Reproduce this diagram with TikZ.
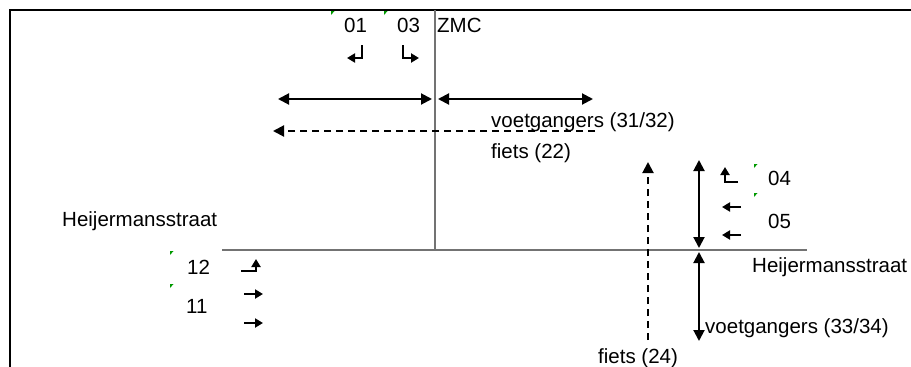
\documentclass[tikz,border=0pt]{standalone}
\usepackage{fontspec}
\setmainfont{Liberation Sans}
\usetikzlibrary{arrows.meta}
\begin{document}
\begin{tikzpicture}[x=1pt,y=-1pt,
  lbl/.style={inner sep=0pt,anchor=base west,font=\fontsize{20.5}{24}\selectfont},
  frame/.style={line width=2.4pt},
  road/.style={line width=1.3pt,draw=black!55},
  arr/.style={line width=2pt,-{Triangle[length=11pt,width=11pt]}},
  darr/.style={line width=2pt,{Triangle[length=11pt,width=11pt]}-{Triangle[length=11pt,width=11pt]}},
  dasharr/.style={arr,dash pattern=on 7pt off 5pt},
  smallarr/.style={line width=2.2pt,-{Triangle[length=8pt,width=9pt]}},
  tick/.style={fill=green!60!black}]
\useasboundingbox (0,0) rectangle (911,367);
% frame
\coordinate (fTR) at (911,10);
\coordinate (fTL) at (10,10);
\coordinate (fBL) at (10,367);
\draw[frame] (fTR) -- (fTL) -- (fBL);
% ZMC line and road
\coordinate (zTop) at (435,10);
\coordinate (zBot) at (435,250);
\draw[road] (zTop) -- (zBot);
\coordinate (rL) at (222,250);
\coordinate (rR) at (807,250);
\draw[road] (rL) -- (rR);
% top crossing arrows
\coordinate (a1) at (278,99);
\coordinate (a2) at (432,99);
\coordinate (a3) at (438,99);
\coordinate (a4) at (593,99);
\draw[darr] (a1) -- (a2);
\draw[darr] (a3) -- (a4);
\coordinate (d1) at (595,131);
\coordinate (d2) at (273,131);
\draw[dasharr] (d1) -- (d2);
% right crossing arrows
\coordinate (v1) at (648,340);
\coordinate (v2) at (648,162);
\draw[dasharr] (v1) -- (v2);
\coordinate (p1) at (699,160);
\coordinate (p2) at (699,248);
\coordinate (p3) at (699,252);
\coordinate (p4) at (699,341);
\draw[darr] (p1) -- (p2);
\draw[darr] (p3) -- (p4);
% turn arrows
\coordinate (s01a) at (362,45);
\coordinate (s01b) at (362,58);
\coordinate (s01c) at (347,58);
\draw[smallarr] (s01a) -- (s01b) -- (s01c);
\coordinate (s03a) at (403,45);
\coordinate (s03b) at (403,58);
\coordinate (s03c) at (419,58);
\draw[smallarr] (s03a) -- (s03b) -- (s03c);
\coordinate (s04a) at (738,182);
\coordinate (s04b) at (725,182);
\coordinate (s04c) at (725,167);
\draw[smallarr] (s04a) -- (s04b) -- (s04c);
\coordinate (s05a) at (741,207);
\coordinate (s05b) at (722,207);
\draw[smallarr] (s05a) -- (s05b);
\coordinate (s06a) at (741,235);
\coordinate (s06b) at (722,235);
\draw[smallarr] (s06a) -- (s06b);
\coordinate (s12a) at (241,271);
\coordinate (s12b) at (256,271);
\coordinate (s12c) at (256,259);
\draw[smallarr] (s12a) -- (s12b) -- (s12c);
\coordinate (s11a) at (244,294);
\coordinate (s11b) at (263,294);
\draw[smallarr] (s11a) -- (s11b);
\coordinate (s13a) at (244,323);
\coordinate (s13b) at (263,323);
\draw[smallarr] (s13a) -- (s13b);
% green marks
\foreach \x/\y in {331/11,384/11,754/164,754/193,170/251,170/284}
  \fill[tick] (\x,\y+4) -- (\x+3.5,\y) -- (\x,\y) -- cycle;
% labels
\node[lbl] (t01) at (344,32) {01};
\node[lbl] (t03) at (397,32) {03};
\node[lbl] (tzmc) at (437,32) {ZMC};
\node[lbl] (tv1) at (491,127) {voetgangers (31/32)};
\node[lbl] (tf1) at (491,158) {fiets (22)};
\node[lbl] (t04) at (768,185) {04};
\node[lbl] (t05) at (768,228) {05};
\node[lbl] (hl) at (62,226) {Heijermansstraat};
\node[lbl] (hr) at (752,272) {Heijermansstraat};
\node[lbl] (t12) at (187,274) {12};
\node[lbl] (t11) at (186,313) {11};
\node[lbl] (tv2) at (705,333) {voetgangers (33/34)};
\node[lbl] (tf2) at (598,363) {fiets (24)};
\end{tikzpicture}
\end{document}
